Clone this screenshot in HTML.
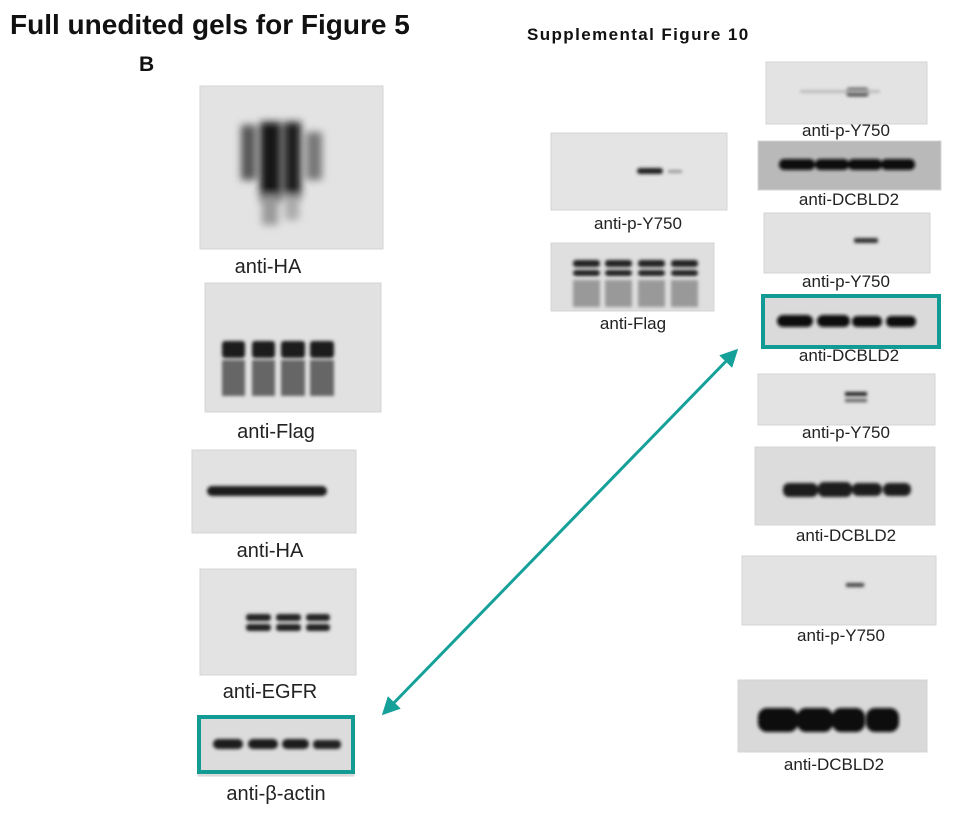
<!DOCTYPE html>
<html><head><meta charset="utf-8"><style>
html,body{margin:0;padding:0;background:#fff;}
body{width:963px;height:818px;position:relative;overflow:hidden;font-family:"Liberation Sans",Arial,sans-serif;}
.t{position:absolute;color:#111;white-space:nowrap;}
.l{position:absolute;color:#222;white-space:nowrap;transform:translateX(-50%);}
.big{font-size:20px;}
.sm{font-size:17px;}
</style></head><body>
<svg width="963" height="818" style="position:absolute;left:0;top:0">
<defs>
<filter id="b1" x="-20%" y="-50%" width="140%" height="200%"><feGaussianBlur stdDeviation="1.6"/></filter>
<filter id="b3" x="-30%" y="-30%" width="160%" height="160%"><feGaussianBlur stdDeviation="4"/></filter>
<marker id="ah" markerWidth="6" markerHeight="6" refX="4" refY="3" orient="auto-start-reverse" markerUnits="strokeWidth"><path d="M0,0 L6,3 L0,6 z" fill="#16a09a"/></marker>
</defs>
<g stroke="#d4d4d4" stroke-width="1">
<rect x="200" y="86" width="183" height="163" fill="#e3e3e3"/>
<rect x="205" y="283" width="176" height="129" fill="#e1e1e1"/>
<rect x="192" y="450" width="164" height="83" fill="#e2e2e2"/>
<rect x="200" y="569" width="156" height="106" fill="#e3e3e3"/>
<rect x="198" y="716" width="156" height="60" fill="#dcdcdc"/>
<rect x="551" y="133" width="176" height="77" fill="#e4e4e4"/>
<rect x="551" y="243" width="163" height="68" fill="#dfdfdf"/>
<rect x="766" y="62" width="161" height="62" fill="#e3e3e3"/>
<rect x="758" y="141" width="183" height="49" fill="#b9b9b9"/>
<rect x="764" y="213" width="166" height="60" fill="#e2e2e2"/>
<rect x="762" y="296" width="178" height="51" fill="#dadada"/>
<rect x="758" y="374" width="177" height="51" fill="#e3e3e3"/>
<rect x="755" y="447" width="180" height="78" fill="#dcdcdc"/>
<rect x="742" y="556" width="194" height="69" fill="#e3e3e3"/>
<rect x="738" y="680" width="189" height="72" fill="#d9d9d9"/>
</g>
<g filter="url(#b3)">
<rect x="241" y="125" width="15" height="55" fill="#555"/>
<rect x="260" y="122" width="21" height="80" fill="#151515"/>
<rect x="284" y="122" width="17" height="78" fill="#1a1a1a"/>
<rect x="306" y="132" width="16" height="48" fill="#777"/>
<rect x="262" y="195" width="16" height="30" fill="#999"/>
<rect x="285" y="195" width="14" height="25" fill="#aaa"/>
</g>
<g filter="url(#b1)">
<g fill="#1a1a1a">
<rect x="222" y="341" width="23" height="17" rx="3"/><rect x="252" y="341" width="23" height="17" rx="3"/>
<rect x="281" y="341" width="24" height="17" rx="3"/><rect x="310" y="341" width="24" height="17" rx="3"/>
</g>
<g fill="#666">
<rect x="222" y="360" width="23" height="36"/><rect x="252" y="360" width="23" height="36"/>
<rect x="281" y="360" width="24" height="36"/><rect x="310" y="360" width="24" height="36"/>
</g>
<rect x="207" y="486" width="120" height="10" rx="5" fill="#1a1a1a"/>
<g fill="#222">
<rect x="246" y="614" width="25" height="7" rx="3"/><rect x="276" y="614" width="25" height="7" rx="3"/><rect x="306" y="614" width="24" height="7" rx="3"/>
<rect x="246" y="624" width="25" height="7" rx="3"/><rect x="276" y="624" width="25" height="7" rx="3"/><rect x="306" y="624" width="24" height="7" rx="3"/>
</g>
<rect x="213" y="739" width="30" height="10" rx="5" fill="#1a1a1a"/><rect x="248" y="739" width="30" height="10" rx="5" fill="#1a1a1a"/>
<rect x="282" y="739" width="27" height="10" rx="5" fill="#1a1a1a"/><rect x="313" y="740" width="28" height="9" rx="4" fill="#222"/>
<rect x="637" y="168" width="26" height="6" rx="3" fill="#222"/>
<rect x="668" y="170" width="14" height="3" fill="#999"/>
<g fill="#222"><rect x="573" y="260" width="27" height="7" rx="3"/><rect x="605" y="260" width="27" height="7" rx="3"/><rect x="638" y="260" width="27" height="7" rx="3"/><rect x="671" y="260" width="27" height="7" rx="3"/>
<rect x="573" y="270" width="27" height="6" rx="3"/><rect x="605" y="270" width="27" height="6" rx="3"/><rect x="638" y="270" width="27" height="6" rx="3"/><rect x="671" y="270" width="27" height="6" rx="3"/></g>
<g fill="#999"><rect x="573" y="280" width="27" height="27"/><rect x="605" y="280" width="27" height="27"/><rect x="638" y="280" width="27" height="27"/><rect x="671" y="280" width="27" height="27"/></g>
<rect x="846" y="88" width="23" height="8" rx="3" fill="#111"/>
<rect x="800" y="90" width="80" height="3" fill="#bbb"/>
<g fill="#111"><rect x="779" y="159" width="36" height="11" rx="5"/><rect x="815" y="159" width="34" height="11" rx="5"/><rect x="848" y="159" width="34" height="11" rx="5"/><rect x="881" y="159" width="34" height="11" rx="5"/></g>
<rect x="854" y="238" width="24" height="5" rx="2" fill="#333"/>
<g fill="#111"><rect x="777" y="315" width="36" height="12" rx="6"/><rect x="817" y="315" width="33" height="12" rx="6"/><rect x="852" y="316" width="30" height="11" rx="5"/><rect x="886" y="316" width="30" height="11" rx="5"/></g>
<rect x="845" y="392" width="22" height="4" fill="#222"/><rect x="845" y="399" width="22" height="3" fill="#555"/>
<g fill="#1a1a1a"><rect x="783" y="483" width="35" height="14" rx="6"/><rect x="818" y="482" width="34" height="15" rx="6"/><rect x="852" y="483" width="30" height="13" rx="6"/><rect x="883" y="483" width="28" height="13" rx="6"/></g>
<rect x="846" y="583" width="18" height="4" fill="#444"/>
<g fill="#111"><rect x="758" y="708" width="40" height="24" rx="9"/><rect x="797" y="708" width="36" height="24" rx="9"/><rect x="832" y="708" width="33" height="24" rx="9"/><rect x="866" y="708" width="33" height="24" rx="9"/></g>
</g>
<rect x="199" y="717" width="154" height="55" fill="none" stroke="#129a95" stroke-width="4"/>
<rect x="763" y="296" width="176" height="51" fill="none" stroke="#129a95" stroke-width="4"/>
<line x1="386" y1="711" x2="734" y2="353" stroke="#16a09a" stroke-width="3" marker-start="url(#ah)" marker-end="url(#ah)"/>
</svg>
<div class="t" style="left:10px;top:9px;font-size:28px;font-weight:bold;">Full unedited gels for Figure 5</div>
<div class="t" style="left:139px;top:53px;font-size:21px;font-weight:bold;">B</div>
<div class="t" style="left:527px;top:25px;font-size:17px;font-weight:bold;letter-spacing:1.4px;">Supplemental Figure 10</div>
<div class="l big" style="left:268px;top:256px;">anti-HA</div>
<div class="l big" style="left:276px;top:421px;">anti-Flag</div>
<div class="l big" style="left:270px;top:540px;">anti-HA</div>
<div class="l big" style="left:270px;top:681px;">anti-EGFR</div>
<div class="l big" style="left:276px;top:783px;">anti-β-actin</div>
<div class="l sm" style="left:638px;top:214px;">anti-p-Y750</div>
<div class="l sm" style="left:633px;top:314px;">anti-Flag</div>
<div class="l sm" style="left:846px;top:121px;">anti-p-Y750</div>
<div class="l sm" style="left:849px;top:190px;">anti-DCBLD2</div>
<div class="l sm" style="left:846px;top:272px;">anti-p-Y750</div>
<div class="l sm" style="left:849px;top:346px;">anti-DCBLD2</div>
<div class="l sm" style="left:846px;top:423px;">anti-p-Y750</div>
<div class="l sm" style="left:846px;top:526px;">anti-DCBLD2</div>
<div class="l sm" style="left:841px;top:626px;">anti-p-Y750</div>
<div class="l sm" style="left:834px;top:755px;">anti-DCBLD2</div>
</body></html>
